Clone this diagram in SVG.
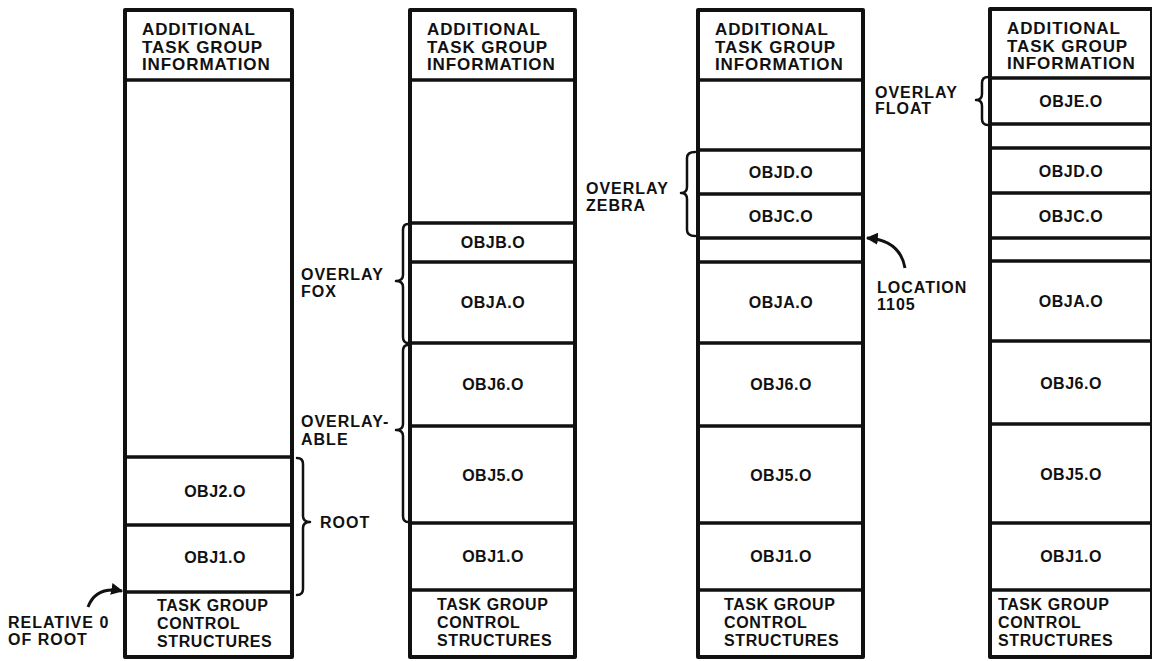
<svg xmlns="http://www.w3.org/2000/svg" width="1152" height="661" viewBox="0 0 1152 661">
<style>
.col{fill:#fff;stroke:#111;stroke-width:4;stroke-linejoin:round}
.div{stroke:#111;stroke-width:3.5}
.hd{font-family:"Liberation Sans",Arial,sans-serif;font-weight:bold;font-size:17px;letter-spacing:0.9px;fill:#111}
.ft{font-family:"Liberation Sans",Arial,sans-serif;font-weight:bold;font-size:16px;letter-spacing:0.6px;fill:#111}
.ob{font-family:"Liberation Sans",Arial,sans-serif;font-weight:bold;font-size:16px;letter-spacing:0.5px;fill:#111;text-anchor:middle}
.lb{font-family:"Liberation Sans",Arial,sans-serif;font-weight:bold;font-size:16px;letter-spacing:1px;fill:#111}
.br{fill:none;stroke:#111;stroke-width:2.5;stroke-linecap:round;stroke-linejoin:round}
.ar{fill:none;stroke:#111;stroke-width:3}
</style>
<defs>
<marker id="ah" viewBox="0 0 10 10" refX="9" refY="5" markerWidth="4" markerHeight="4" orient="auto" markerUnits="strokeWidth">
<path d="M0,0 L10,5 L0,10 Z" fill="#111"/>
</marker>
</defs>

<g id="col1">
<rect class="col" x="125" y="10" width="167" height="647"/>
<line class="div" x1="125" y1="80" x2="292" y2="80"/>
<line class="div" x1="125" y1="457" x2="292" y2="457"/>
<line class="div" x1="125" y1="525" x2="292" y2="525"/>
<line class="div" x1="125" y1="592" x2="292" y2="592"/>
<text class="hd" x="142" y="35">ADDITIONAL</text>
<text class="hd" x="142" y="53">TASK GROUP</text>
<text class="hd" x="142" y="70">INFORMATION</text>
<text class="ob" x="215" y="497">OBJ2.O</text>
<text class="ob" x="215" y="563">OBJ1.O</text>
<text class="ft" x="157" y="611">TASK GROUP</text>
<text class="ft" x="157" y="629">CONTROL</text>
<text class="ft" x="157" y="647">STRUCTURES</text>
</g>

<g id="col2">
<rect class="col" x="410" y="10" width="165" height="647"/>
<line class="div" x1="410" y1="80" x2="575" y2="80"/>
<line class="div" x1="410" y1="223" x2="575" y2="223"/>
<line class="div" x1="410" y1="262" x2="575" y2="262"/>
<line class="div" x1="410" y1="343" x2="575" y2="343"/>
<line class="div" x1="410" y1="426" x2="575" y2="426"/>
<line class="div" x1="410" y1="523" x2="575" y2="523"/>
<line class="div" x1="410" y1="590" x2="575" y2="590"/>
<text class="hd" x="427" y="35">ADDITIONAL</text>
<text class="hd" x="427" y="53">TASK GROUP</text>
<text class="hd" x="427" y="70">INFORMATION</text>
<text class="ob" x="493" y="248">OBJB.O</text>
<text class="ob" x="493" y="308">OBJA.O</text>
<text class="ob" x="493" y="390">OBJ6.O</text>
<text class="ob" x="493" y="481">OBJ5.O</text>
<text class="ob" x="493" y="562">OBJ1.O</text>
<text class="ft" x="437" y="610">TASK GROUP</text>
<text class="ft" x="437" y="628">CONTROL</text>
<text class="ft" x="437" y="646">STRUCTURES</text>
</g>

<g id="col3">
<rect class="col" x="698" y="10" width="165" height="647"/>
<line class="div" x1="698" y1="80" x2="863" y2="80"/>
<line class="div" x1="698" y1="150" x2="863" y2="150"/>
<line class="div" x1="698" y1="194" x2="863" y2="194"/>
<line class="div" x1="698" y1="238" x2="863" y2="238"/>
<line class="div" x1="698" y1="262" x2="863" y2="262"/>
<line class="div" x1="698" y1="343" x2="863" y2="343"/>
<line class="div" x1="698" y1="426" x2="863" y2="426"/>
<line class="div" x1="698" y1="523" x2="863" y2="523"/>
<line class="div" x1="698" y1="590" x2="863" y2="590"/>
<text class="hd" x="715" y="35">ADDITIONAL</text>
<text class="hd" x="715" y="53">TASK GROUP</text>
<text class="hd" x="715" y="70">INFORMATION</text>
<text class="ob" x="781" y="178">OBJD.O</text>
<text class="ob" x="781" y="222">OBJC.O</text>
<text class="ob" x="781" y="308">OBJA.O</text>
<text class="ob" x="781" y="390">OBJ6.O</text>
<text class="ob" x="781" y="481">OBJ5.O</text>
<text class="ob" x="781" y="562">OBJ1.O</text>
<text class="ft" x="724" y="610">TASK GROUP</text>
<text class="ft" x="724" y="628">CONTROL</text>
<text class="ft" x="724" y="646">STRUCTURES</text>
</g>

<g id="col4">
<rect class="col" x="990" y="9" width="162" height="648"/>
<line class="div" x1="990" y1="78" x2="1152" y2="78"/>
<line class="div" x1="990" y1="124" x2="1152" y2="124"/>
<line class="div" x1="990" y1="148" x2="1152" y2="148"/>
<line class="div" x1="990" y1="193" x2="1152" y2="193"/>
<line class="div" x1="990" y1="238" x2="1152" y2="238"/>
<line class="div" x1="990" y1="261" x2="1152" y2="261"/>
<line class="div" x1="990" y1="341" x2="1152" y2="341"/>
<line class="div" x1="990" y1="424" x2="1152" y2="424"/>
<line class="div" x1="990" y1="523" x2="1152" y2="523"/>
<line class="div" x1="990" y1="590" x2="1152" y2="590"/>
<text class="hd" x="1007" y="34">ADDITIONAL</text>
<text class="hd" x="1007" y="52">TASK GROUP</text>
<text class="hd" x="1007" y="69">INFORMATION</text>
<text class="ob" x="1071" y="107">OBJE.O</text>
<text class="ob" x="1071" y="177">OBJD.O</text>
<text class="ob" x="1071" y="222">OBJC.O</text>
<text class="ob" x="1071" y="307">OBJA.O</text>
<text class="ob" x="1071" y="389">OBJ6.O</text>
<text class="ob" x="1071" y="480">OBJ5.O</text>
<text class="ob" x="1071" y="562">OBJ1.O</text>
<text class="ft" x="998" y="610">TASK GROUP</text>
<text class="ft" x="998" y="628">CONTROL</text>
<text class="ft" x="998" y="646">STRUCTURES</text>
</g>

<g id="labels">
<text class="lb" x="8" y="628">RELATIVE 0</text>
<text class="lb" x="8" y="645">OF ROOT</text>
<text class="lb" x="320" y="528">ROOT</text>
<text class="lb" x="301" y="280">OVERLAY</text>
<text class="lb" x="301" y="297">FOX</text>
<text class="lb" x="301" y="427">OVERLAY-</text>
<text class="lb" x="301" y="445">ABLE</text>
<text class="lb" x="586" y="194">OVERLAY</text>
<text class="lb" x="586" y="211">ZEBRA</text>
<text class="lb" x="877" y="293">LOCATION</text>
<text class="lb" x="877" y="310">1105</text>
<text class="lb" x="875" y="98">OVERLAY</text>
<text class="lb" x="875" y="114">FLOAT</text>
</g>

<g id="connectors">
<path class="br" d="M297,458 Q303,458 303,464 L303,516 Q303,522 310,522 Q303,522 303,528 L303,589 Q303,595 297,595"/>
<path class="br" d="M408,224 Q403,224 403,230 L403,275 Q403,281 396,281 Q403,281 403,287 L403,337 Q403,343 408,343"/>
<path class="br" d="M408,345 Q403,345 403,351 L403,424 Q403,430 396,430 Q403,430 403,436 L403,516 Q403,522 408,522"/>
<path class="br" d="M695,152 Q687,152 687,158 L687,187 Q687,193 681,193 Q687,193 687,199 L687,230 Q687,236 695,236"/>
<path class="br" d="M988,77 Q982,77 982,83 L982,94 Q982,100 976,100 Q982,100 982,106 L982,119 Q982,125 988,125"/>
<path class="ar" d="M88,607 Q96,586 122,591" marker-end="url(#ah)"/>
<path class="ar" d="M905,268 Q900,240 867,238" marker-end="url(#ah)"/>
</g>
</svg>
